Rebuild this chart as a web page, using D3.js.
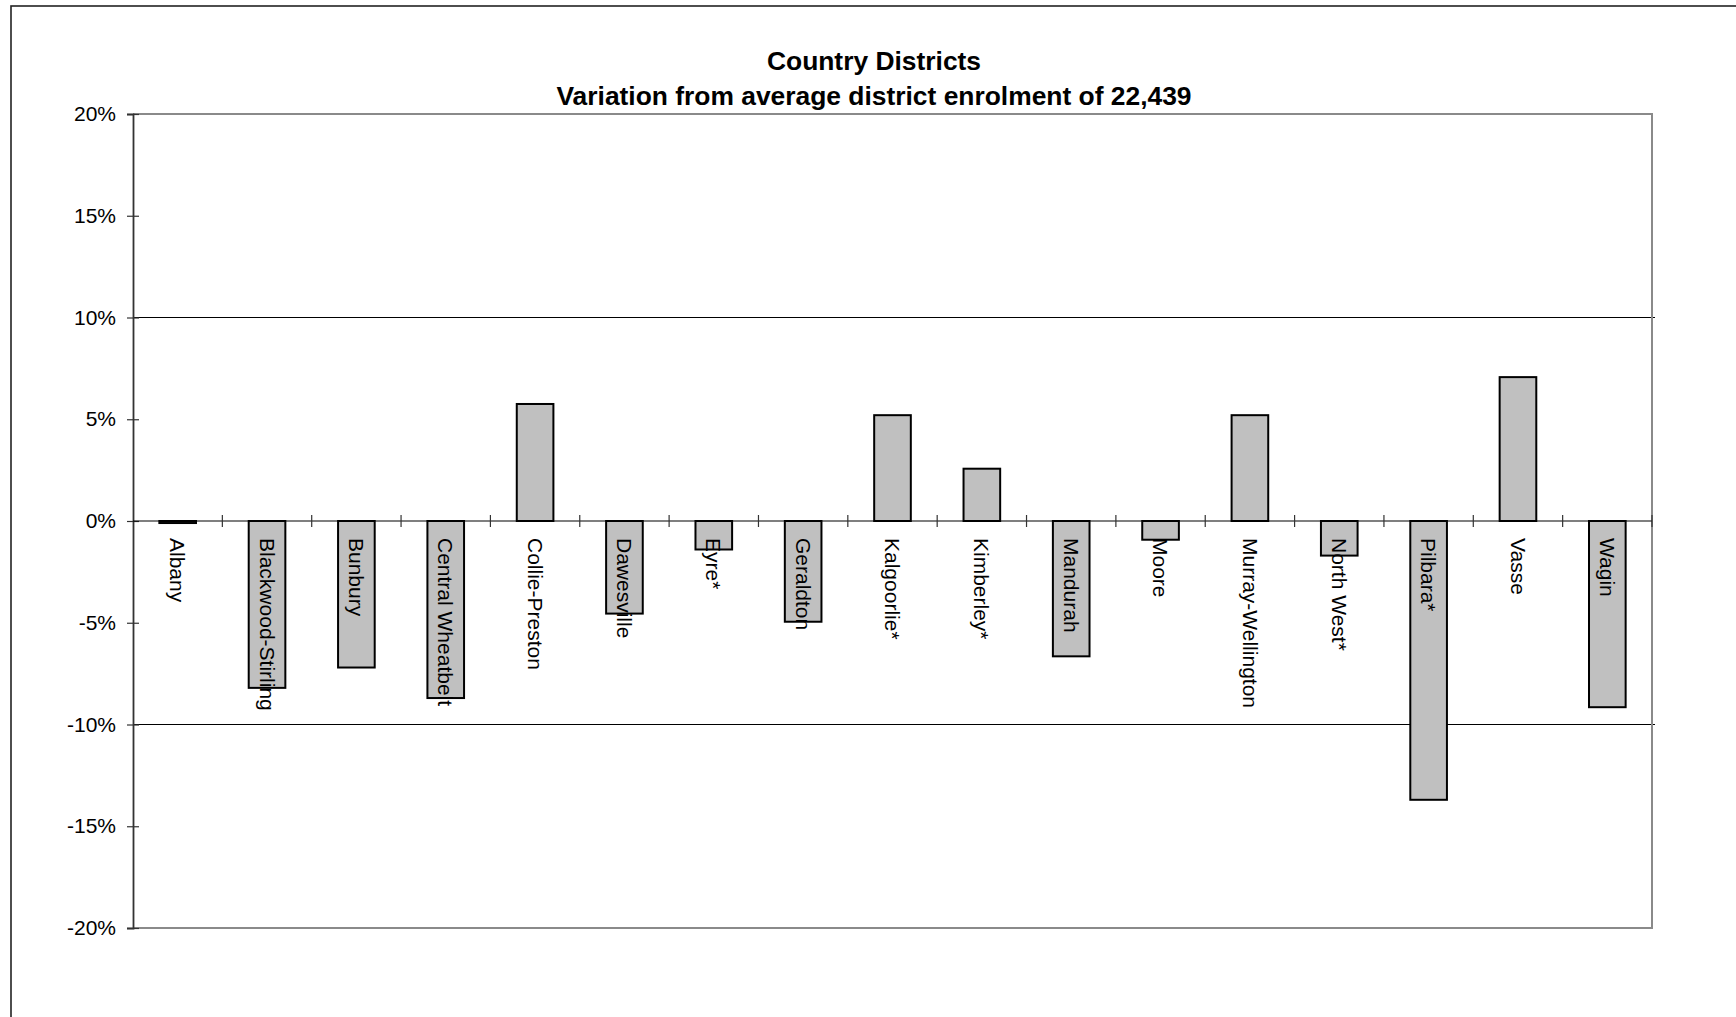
<!DOCTYPE html>
<html>
<head>
<meta charset="utf-8">
<script src="https://cdn.jsdelivr.net/npm/d3@7"></script>
<style>
  html, body { margin: 0; padding: 0; background: #fff; }
  svg { display: block; font-family: "Liberation Sans", Arial, sans-serif; }
</style>
</head>
<body>
<svg id="chart" width="1736" height="1017"></svg>
<script>
const categories = ["Albany","Blackwood-Stirling","Bunbury","Central Wheatbelt","Collie-Preston","Dawesville","Eyre*","Geraldton","Kalgoorlie*","Kimberley*","Mandurah","Moore","Murray-Wellington","North West*","Pilbara*","Vasse","Wagin"];
const variation = [-0.1, -8.2, -7.2, -8.7, 5.75, -4.55, -1.4, -4.95, 5.2, 2.57, -6.65, -0.92, 5.2, -1.7, -13.7, 7.07, -9.15];
const yTicks = [-20, -15, -10, -5, 0, 5, 10, 15, 20];
const gridValues = [-10, 10];
const titleLines = ["Country Districts", "Variation from average district enrolment of 22,439"];

const svg = d3.select("#chart");
const W = 1736, H = 1017;
const plot = { left: 133, right: 1652, top: 114, bottom: 928 };

// outer chart frame
svg.append("rect").attr("x", 11).attr("y", 6).attr("width", W + 20).attr("height", H + 20)
  .attr("fill", "#fff").attr("stroke", "#222").attr("stroke-width", 1.6);

const x = d3.scaleBand().domain(categories).range([plot.left, plot.right]).padding(0);
const y = d3.scaleLinear().domain([-20, 20]).range([plot.bottom, plot.top]);
const barW = x.bandwidth() * 0.41;

// title
const title = svg.append("text").attr("text-anchor", "middle").attr("font-weight", "bold")
  .attr("font-size", 26.4).attr("fill", "#000");
titleLines.forEach((t, i) => {
  title.append("tspan").attr("x", 874).attr("y", 70 + i * 35).text(t);
});

// gridlines
svg.append("g").selectAll("line").data(gridValues).join("line")
  .attr("x1", plot.left).attr("x2", plot.right + 3)
  .attr("y1", d => y(d)).attr("y2", d => y(d))
  .attr("stroke", "#000").attr("stroke-width", 1.2);

// plot border (top, right, bottom) in gray
svg.append("path")
  .attr("d", `M${plot.left},${plot.top}H${plot.right}V${plot.bottom}H${plot.left}`)
  .attr("fill", "none").attr("stroke", "#8a8a8a").attr("stroke-width", 2);

// bars
svg.append("g").selectAll("rect").data(categories).join("rect")
  .attr("x", d => x(d) + (x.bandwidth() - barW) / 2)
  .attr("width", barW)
  .attr("y", (d, i) => y(Math.max(0, variation[i])))
  .attr("height", (d, i) => Math.abs(y(variation[i]) - y(0)))
  .attr("fill", "#c0c0c0").attr("stroke", "#000").attr("stroke-width", 2);

// y axis
const yAxis = d3.axisLeft(y).tickValues(yTicks).tickFormat(d => d + "%").tickSize(6).tickPadding(11);
const gy = svg.append("g").attr("transform", `translate(${plot.left},0)`).call(yAxis);
gy.select(".domain").attr("stroke", "#333").attr("stroke-width", 1.8);
gy.selectAll(".tick line").attr("stroke", "#333").attr("x2", -6).attr("x1", 6).attr("stroke-width", 1.2);
gy.selectAll(".tick text").attr("font-size", 21).attr("fill", "#000")
  .attr("font-family", "'Liberation Sans', Arial, sans-serif").attr("x", -17);

// zero line (category axis) with boundary ticks
const boundaries = categories.map(c => x(c)).concat([plot.right]).slice(1);
const gx = svg.append("g");
gx.append("line").attr("x1", plot.left).attr("x2", plot.right)
  .attr("y1", y(0)).attr("y2", y(0)).attr("stroke", "#000").attr("stroke-width", 1.2);
gx.selectAll("line.tk").data(boundaries).join("line").attr("class", "tk")
  .attr("x1", d => d).attr("x2", d => d)
  .attr("y1", y(0) - 6).attr("y2", y(0) + 6)
  .attr("stroke", "#333").attr("stroke-width", 1.2);

// category labels (rotated, reading top to bottom)
gx.selectAll("text").data(categories).join("text")
  .attr("transform", d => `translate(${x(d) + x.bandwidth() / 2},${y(0) + 17}) rotate(90)`)
  .attr("dy", "0.35em")
  .attr("text-anchor", "start")
  .attr("font-size", 21).attr("fill", "#000")
  .text(d => d);
</script>
</body>
</html>
